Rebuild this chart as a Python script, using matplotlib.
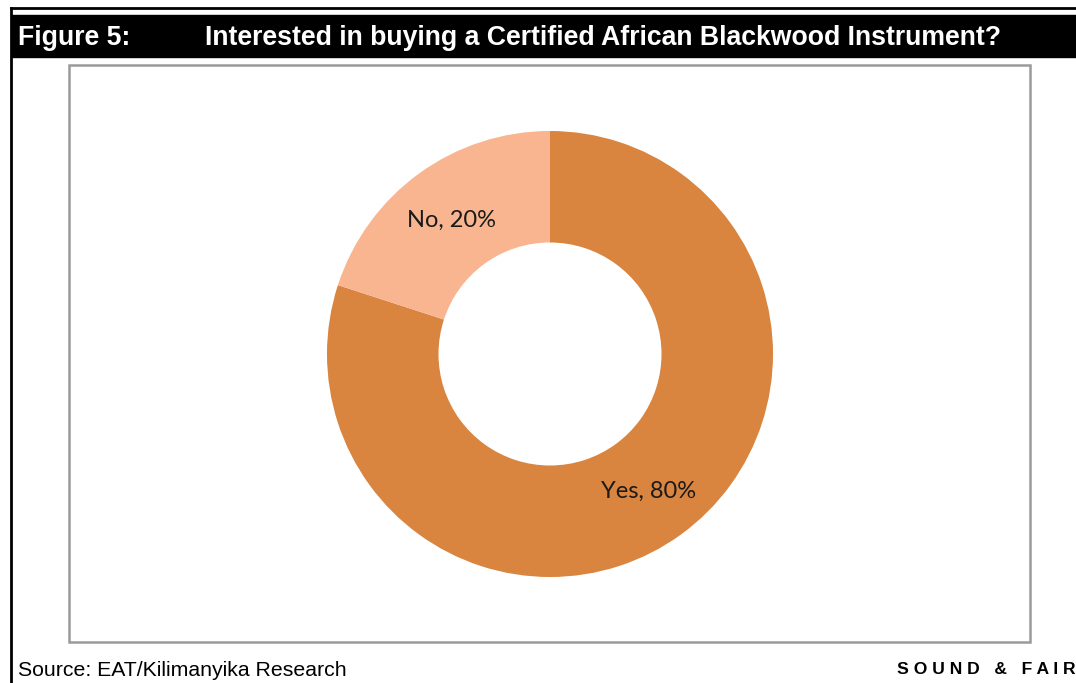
import matplotlib.pyplot as plt
from matplotlib.patches import Rectangle
from matplotlib.lines import Line2D

# Survey answers
respostas = ["Yes", "No"]
percentagens = [80, 20]
cores = ["#D9843F", "#F8B590"]

W, H = 1076, 683
fig = plt.figure(figsize=(W / 100, H / 100), dpi=100)
fig.patch.set_facecolor("white")


def px(x, y):
    # pixel coords from top-left -> figure fraction
    return x / W, 1 - y / H


# outer report frame (top and left rules)
fig.add_artist(Line2D([10.5 / W, 1], [1 - 7.5 / H, 1 - 7.5 / H], color="black", lw=2,
                      transform=fig.transFigure))
fig.add_artist(Line2D([10.5 / W, 10.5 / W], [0, 1 - 7.5 / H], color="black", lw=2,
                      transform=fig.transFigure))

# black title band
fig.add_artist(Rectangle(px(12, 57), (W - 12) / W, 42 / H, color="black",
                         transform=fig.transFigure, zorder=1))
fig.text(*px(18, 38), "Figure 5:", color="white", fontsize=19.2, fontweight="bold",
         family="Liberation Sans", va="center", ha="left", zorder=2)
fig.text(*px(205, 38), "Interested in buying a Certified African Blackwood Instrument?",
         color="white", fontsize=19.2, fontweight="bold", family="Liberation Sans",
         va="center", ha="left", zorder=2)

# grey chart border
fig.add_artist(Rectangle(px(69, 642), (1030 - 69) / W, (642 - 65) / H, fill=False,
                         edgecolor="#9a9a9a", lw=1.8, transform=fig.transFigure))

# donut
cx, cy, r = 550, 354, 223
ax = fig.add_axes([(cx - r) / W, (H - cy - r) / H, 2 * r / W, 2 * r / H])
wedges, texts = ax.pie(percentagens, colors=cores, startangle=90, counterclock=False,
                       radius=1, labels=[f"{a}, {p}%" for a, p in zip(respostas, percentagens)],
                       labeldistance=0.75, wedgeprops=dict(width=0.5, edgecolor="none"),
                       textprops=dict(fontsize=17, family="Lato", color="#1a1a1a"))
for t in texts:
    t.set_ha("center")
    t.set_va("center_baseline")
ax.set_xlim(-1, 1)
ax.set_ylim(-1, 1)
ax.set_aspect("equal")
ax.axis("off")

# footer
fig.text(*px(18, 670), "Source: EAT/Kilimanyika Research", fontsize=15.3,
         family="Liberation Sans", va="center", ha="left")
fig.text(*px(897, 670), "S O U N D   &   F A I R", fontsize=12.6, fontweight="bold",
         family="Liberation Sans", va="center", ha="left")

fig.savefig("out.png", dpi=100)
